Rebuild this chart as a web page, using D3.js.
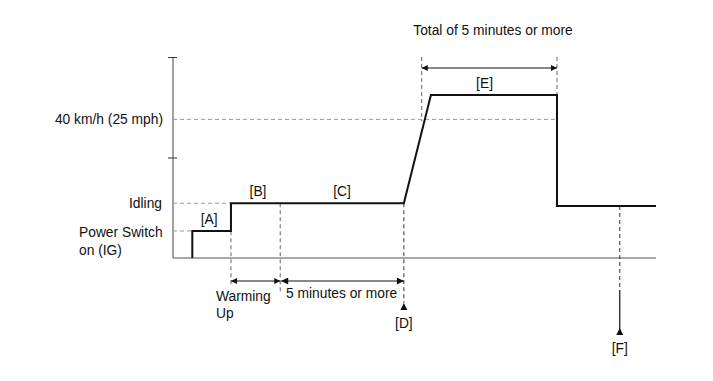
<!DOCTYPE html>
<html><head><meta charset="utf-8">
<script src="https://cdn.jsdelivr.net/npm/d3@7"></script>
<style>
html,body{margin:0;padding:0;background:#fff;}
text{font-family:"Liberation Sans",Arial,sans-serif;font-size:13.8px;fill:#111;}
</style></head>
<body>
<svg id="c" width="713" height="381"></svg>
<script>
// ---- data ----
const profileTime  = [4, 4, 12, 12, 47.8, 53.4, 79.5, 79.5, 100];
const profileSpeed = [0, 7.8, 7.8, 15.8, 15.8, 47, 47, 15, 15];
const levelLabels = ["40 km/h (25 mph)", "Idling", "Power Switch", "on (IG)"];
const levelValues = [40, 15.8, 7.8];
const levelEnds = [79.5, 12, 4];
const axisTicks = [29, 58];
const phaseLabels = ["[A]", "[B]", "[C]", "[E]"];
const phaseTimes = [7.5, 17.6, 35, 64.5];
const phaseSpeeds = [7.8, 15.8, 15.8, 47];
const warmStart = 12, warmEnd = 22.2, pointD = 47.8, eStart = 51.5, eEnd = 79.5, pointF = 92.5;
const annotationText = ["Warming", "Up", "5 minutes or more", "Total of 5 minutes or more", "[D]", "[F]"];

// ---- scales ----
const svg = d3.select("#c");
const x = d3.scaleLinear().domain([0, 100]).range([173, 656]);
const y = d3.scaleLinear().domain([0, 58]).range([258, 57]);

const defs = svg.append("defs");
const mk = (id, w, h) => defs.append("marker").attr("id", id).attr("viewBox","0 0 10 10").attr("refX",10).attr("refY",5)
  .attr("markerWidth",w).attr("markerHeight",h).attr("markerUnits","userSpaceOnUse")
  .attr("orient","auto-start-reverse")
  .append("path").attr("d","M0,0 L10,5 L0,10 Z").attr("fill","#111");
mk("ah", 10, 6);
mk("ahL", 14, 7);

// axes
const yAxis = d3.axisLeft(y).tickValues(axisTicks).tickSize(4).tickFormat("");
const yg = svg.append("g").attr("transform", `translate(${x(0)},0)`).call(yAxis);
yg.select(".domain").remove();
yg.selectAll(".tick line").attr("x2", 4).attr("x1", -5).attr("stroke", "#333");
svg.append("line").attr("x1", x(0)).attr("x2", x(0)).attr("y1", y(58)).attr("y2", y(0)).attr("stroke", "#444");
svg.append("line").attr("x1", x(0)).attr("x2", x(100)).attr("y1", y(0)).attr("y2", y(0)).attr("stroke", "#555");

// horizontal reference dashed lines
levelValues.forEach((v, i) => {
  svg.append("line").attr("x1", x(0)).attr("x2", x(levelEnds[i])).attr("y1", y(v)).attr("y2", y(v))
    .attr("stroke", "#999").attr("stroke-dasharray", "4,3");
});

// level labels
svg.append("text").attr("x", 163).attr("y", y(levelValues[0]) + 5).attr("text-anchor", "end").text(levelLabels[0]);
svg.append("text").attr("x", 162).attr("y", y(levelValues[1]) + 5).attr("text-anchor", "end").text(levelLabels[1]);
svg.append("text").attr("x", 79).attr("y", y(levelValues[2]) + 6).text(levelLabels[2]);
svg.append("text").attr("x", 79).attr("y", y(levelValues[2]) + 24).text(levelLabels[3]);

// vertical dashed guides
const vd = (t, y1, y2, col) => svg.append("line").attr("x1", x(t)).attr("x2", x(t)).attr("y1", y1).attr("y2", y2)
  .attr("stroke", col || "#666").attr("stroke-dasharray", "4,3");
vd(warmStart, y(15.8), 287);
vd(warmEnd, y(15.8), 292);
vd(pointD, y(15.8), 303, "#333");
vd(eStart, 57, y(40) + 2);
vd(eEnd, 57, y(47));
vd(pointF, y(15), 290, "#333");

// profile line
const pts = profileTime.map((t, i) => [x(t), y(profileSpeed[i])]);
svg.append("path").attr("d", d3.line()(pts)).attr("fill", "none").attr("stroke", "#111").attr("stroke-width", 2);

// double arrows
const dArrow = (t1, t2, yy, m) => svg.append("line").attr("x1", x(t1)).attr("x2", x(t2)).attr("y1", yy).attr("y2", yy)
  .attr("stroke", "#111").attr("stroke-width", 1.2).attr("marker-start", `url(#${m})`).attr("marker-end", `url(#${m})`);
dArrow(warmStart, warmEnd, 281, "ah");
dArrow(warmEnd + 0.2, pointD, 281, "ahL");
dArrow(eStart, eEnd, 68, "ah");

// F solid arrow
svg.append("line").attr("x1", x(pointF)).attr("x2", x(pointF)).attr("y1", 290).attr("y2", 334)
  .attr("stroke", "#111").attr("stroke-width", 1.2);
// up triangles
const tri = (t, tipY) => svg.append("path")
  .attr("d", `M${x(t)},${tipY} L${x(t) + 3.5},${tipY + 7} L${x(t) - 3.5},${tipY + 7} Z`).attr("fill", "#111");
tri(pointD, 303);
tri(pointF, 328);

// phase labels
phaseLabels.forEach((l, i) => {
  svg.append("text").attr("x", x(phaseTimes[i])).attr("y", y(phaseSpeeds[i]) - 7).attr("text-anchor", "middle").text(l);
});

// annotations
svg.append("text").attr("x", 216).attr("y", 301).text(annotationText[0]);
svg.append("text").attr("x", 216).attr("y", 318).text(annotationText[1]);
svg.append("text").attr("x", 286).attr("y", 298).text(annotationText[2]);
svg.append("text").attr("x", 493).attr("y", 35).attr("text-anchor", "middle").text(annotationText[3]);
svg.append("text").attr("x", x(pointD)).attr("y", 328).attr("text-anchor", "middle").text(annotationText[4]);
svg.append("text").attr("x", x(pointF)).attr("y", 353).attr("text-anchor", "middle").text(annotationText[5]);
</script>
</body></html>
